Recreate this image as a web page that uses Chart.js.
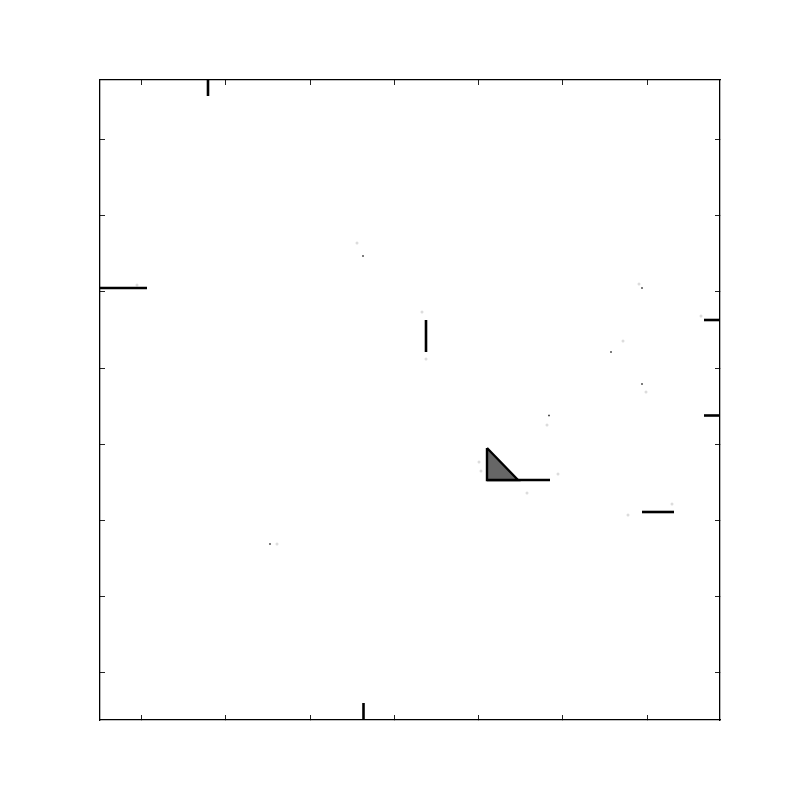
<!DOCTYPE html>
<html>
<head>
<meta charset="utf-8">
<script src="https://cdn.jsdelivr.net/npm/chart.js@4/dist/chart.umd.min.js"></script>
<style>
  html, body { margin: 0; padding: 0; background: #ffffff; }
  #wrap { width: 800px; height: 800px; }
</style>
</head>
<body>
<div id="wrap"><canvas id="c" width="800" height="800"></canvas></div>
<script>
// ---- data (axis units: x 0..620, y 0..640) ----
const xRange = [0, 620];
const yRange = [0, 640];
const xTicks = [41.5, 125.75, 210, 294.25, 378.5, 462.75, 547];
const yTicks = [47.1, 123.3, 199.5, 275.7, 351.9, 428.1, 504.3, 580.5];

// black line segments: [x1, y1, x2, y2]
const segments = [
  [108, 640, 108, 624],
  [263.5, 0, 263.5, 17],
  [0, 432, 47, 432],
  [604, 400, 620, 400],
  [604, 304.5, 620, 304.5],
  [326, 400, 326, 368],
  [387, 240, 450, 240],
  [542, 208, 574, 208]
];

// filled triangle vertices
const triangleX = [387, 387, 418, 387];
const triangleY = [272, 240, 240, 272];

// dark point markers
const darkX = [263, 170, 449, 542, 511, 542];
const darkY = [464, 176, 304.5, 432, 368, 336];

// faint point markers
const lightX = [257, 322, 326, 447, 379, 381, 458, 427, 539, 601, 523, 546, 572, 528, 177, 37];
const lightY = [477, 408, 361, 295, 258, 249, 246, 227, 436, 404, 379, 328, 216, 205, 176, 435];

// ---- build datasets ----
const toPts = (xs, ys) => xs.map((x, i) => ({ x: x, y: ys[i] }));
const datasets = [];

datasets.push({
  type: 'line',
  data: toPts(triangleX, triangleY),
  borderColor: '#000000',
  borderWidth: 2.4,
  backgroundColor: '#666666',
  fill: 'shape',
  pointRadius: 0,
  tension: 0
});

segments.forEach(s => {
  datasets.push({
    type: 'line',
    data: [{ x: s[0], y: s[1] }, { x: s[2], y: s[3] }],
    borderColor: '#000000',
    borderWidth: 2.6,
    pointRadius: 0,
    fill: false,
    tension: 0,
    borderCapStyle: 'butt'
  });
});

datasets.push({
  type: 'scatter',
  data: toPts(lightX, lightY),
  pointRadius: 1.5,
  pointBorderWidth: 0,
  backgroundColor: '#dcdcdc',
  borderColor: '#dcdcdc'
});

datasets.push({
  type: 'scatter',
  data: toPts(darkX, darkY),
  pointStyle: 'rect',
  pointRadius: 1.1,
  pointBorderWidth: 0,
  backgroundColor: '#222222',
  borderColor: '#222222'
});

function axis(position, range, tickVals, horizontal) {
  return {
    type: 'linear',
    position: position,
    min: range[0],
    max: range[1],
    ticks: { display: false },
    grid: {
      drawOnChartArea: false,
      drawTicks: true,
      tickLength: -5,
      color: '#222222',
      lineWidth: 1
    },
    border: { display: true, color: '#000000', width: 1.3 },
    afterBuildTicks: (sc) => { sc.ticks = tickVals.map(v => ({ value: v })); },
    afterFit: (sc) => { if (horizontal) { sc.height = 0; } else { sc.width = 0; } }
  };
}

new Chart(document.getElementById('c'), {
  type: 'scatter',
  data: { datasets: datasets },
  options: {
    responsive: false,
    animation: false,
    layout: { padding: { left: 100, right: 80, top: 80, bottom: 80 } },
    plugins: { legend: { display: false }, tooltip: { enabled: false } },
    scales: {
      x: axis('bottom', xRange, xTicks, true),
      x2: axis('top', xRange, xTicks, true),
      y: axis('left', yRange, yTicks, false),
      y2: axis('right', yRange, yTicks, false)
    }
  }
});
</script>
</body>
</html>
